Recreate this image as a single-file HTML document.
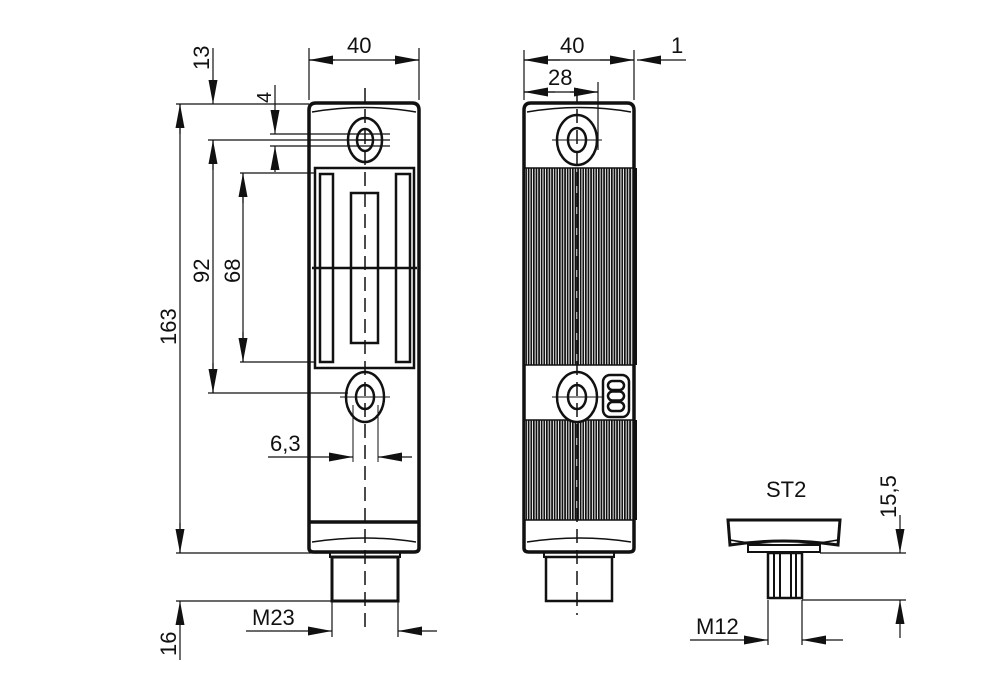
<!DOCTYPE html>
<html><head><meta charset="utf-8"><style>
html,body{margin:0;padding:0;background:#fff;width:1000px;height:695px;overflow:hidden}
svg{display:block}
text{font-family:"Liberation Sans",sans-serif;font-size:22px;fill:#111}
</style></head><body>
<svg width="1000" height="695" viewBox="0 0 1000 695" xmlns="http://www.w3.org/2000/svg">
<defs>
<pattern id="rib" width="2.6" height="10" patternUnits="userSpaceOnUse">
<rect width="2.6" height="10" fill="#fff"/><rect width="1.7" height="10" fill="#111"/>
</pattern>
<marker id="a" viewBox="0 0 24 10" refX="24" refY="5" markerWidth="24" markerHeight="10" markerUnits="userSpaceOnUse" orient="auto"><path d="M0,0.5 L24,5 L0,9.5 z" fill="#111"/></marker>
</defs>
<g stroke="#111" fill="none">
<!-- ===== LEFT VIEW ===== -->
<path d="M309,548 L309,110 Q309,103 316,103 L412,103 Q419,103 419,110 L419,548 Q419,552 414,552 L314,552 Q309,552 309,548 z" stroke-width="3.5"/>
<path d="M312,112 Q365,103 416,112" stroke-width="1.5"/>
<line x1="309" y1="522" x2="419" y2="522" stroke-width="3.5"/>
<path d="M312,542 Q365,534 416,542" stroke-width="1.5"/>
<rect x="315" y="168" width="99" height="200" stroke-width="2.5"/>
<rect x="320" y="174" width="13" height="188" stroke-width="2.5"/>
<rect x="396" y="174" width="14" height="188" stroke-width="2.5"/>
<rect x="351" y="193" width="27" height="150" stroke-width="2.5"/>
<line x1="312" y1="268" x2="417" y2="268" stroke-width="2.5"/>
<ellipse cx="365" cy="140" rx="17" ry="22" stroke-width="2.5"/>
<ellipse cx="365" cy="140" rx="8" ry="11" stroke-width="2.5"/>
<line x1="357" y1="140" x2="373" y2="140" stroke-width="1.5"/>
<ellipse cx="365" cy="397" rx="19" ry="25" stroke-width="2.5"/>
<ellipse cx="365" cy="397" rx="9" ry="12" stroke-width="2.5"/>
<line x1="340" y1="397" x2="390" y2="397" stroke-width="1"/>
<rect x="330" y="552" width="70" height="5" stroke-width="2"/>
<rect x="332" y="557" width="66" height="44" stroke-width="3"/>
<line x1="365" y1="88" x2="365" y2="630" stroke-width="1.5" stroke-dasharray="14,7"/>
<line x1="353" y1="405" x2="353" y2="462" stroke-width="1"/>
<line x1="378" y1="405" x2="378" y2="462" stroke-width="1"/>
<!-- dims left -->
<g stroke-width="1.2">
<line x1="309" y1="100" x2="309" y2="48"/><line x1="419" y1="100" x2="419" y2="48"/>
<line x1="335" y1="60" x2="309" y2="60" marker-end="url(#a)"/><line x1="393" y1="60" x2="419" y2="60" marker-end="url(#a)"/>
<line x1="309" y1="60" x2="419" y2="60"/>
<line x1="176" y1="104" x2="309" y2="104"/>
<line x1="208" y1="140" x2="390" y2="140"/>
<line x1="270" y1="134" x2="390" y2="134"/>
<line x1="270" y1="146" x2="390" y2="146"/>
<line x1="240" y1="173" x2="316" y2="173"/>
<line x1="240" y1="362" x2="316" y2="362"/>
<line x1="208" y1="393" x2="348" y2="393"/>
<line x1="176" y1="553" x2="330" y2="553"/>
<line x1="176" y1="601" x2="332" y2="601"/>
<line x1="213" y1="48" x2="213" y2="104" marker-end="url(#a)"/>
<line x1="213" y1="140" x2="213" y2="393"/>
<line x1="213" y1="170" x2="213" y2="140" marker-end="url(#a)"/><line x1="213" y1="363" x2="213" y2="393" marker-end="url(#a)"/>
<line x1="275" y1="85" x2="275" y2="134" marker-end="url(#a)"/>
<line x1="275" y1="172" x2="275" y2="146" marker-end="url(#a)"/>
<line x1="243" y1="173" x2="243" y2="362"/>
<line x1="243" y1="203" x2="243" y2="173" marker-end="url(#a)"/><line x1="243" y1="332" x2="243" y2="362" marker-end="url(#a)"/>
<line x1="180" y1="104" x2="180" y2="553"/>
<line x1="180" y1="134" x2="180" y2="104" marker-end="url(#a)"/><line x1="180" y1="523" x2="180" y2="553" marker-end="url(#a)"/>
<line x1="180" y1="660" x2="180" y2="601" marker-end="url(#a)"/>
<line x1="268" y1="457" x2="353" y2="457" marker-end="url(#a)"/>
<line x1="412" y1="457" x2="378" y2="457" marker-end="url(#a)"/>
<line x1="332" y1="601" x2="332" y2="637"/><line x1="398" y1="601" x2="398" y2="637"/>
<line x1="246" y1="631" x2="332" y2="631" marker-end="url(#a)"/>
<line x1="437" y1="631" x2="398" y2="631" marker-end="url(#a)"/>
</g>
<!-- ===== RIGHT VIEW ===== -->
<rect x="526" y="168" width="106" height="197" fill="url(#rib)" stroke="none"/>
<rect x="526" y="420" width="106" height="100" fill="url(#rib)" stroke="none"/>
<path d="M524,548 L524,110 Q524,103 531,103 L627,103 Q634,103 634,110 L634,548 Q634,552 629,552 L529,552 Q524,552 524,548 z" stroke-width="3.5"/>
<line x1="636" y1="168" x2="636" y2="365" stroke-width="2"/>
<line x1="636" y1="420" x2="636" y2="520" stroke-width="2"/>
<path d="M527,112 Q580,103 631,112" stroke-width="1.5"/>
<line x1="524" y1="168" x2="634" y2="168" stroke-width="1.5"/>
<line x1="524" y1="365" x2="634" y2="365" stroke-width="1.5"/>
<line x1="524" y1="420" x2="634" y2="420" stroke-width="1.5"/>
<line x1="524" y1="520" x2="634" y2="520" stroke-width="1.5"/>
<path d="M527,542 Q580,534 631,542" stroke-width="1.5"/>
<ellipse cx="577" cy="140" rx="20" ry="25" stroke-width="2.5" fill="#fff"/>
<ellipse cx="577" cy="140" rx="9" ry="12" stroke-width="2.5"/>
<line x1="552" y1="140" x2="602" y2="140" stroke-width="1"/>
<ellipse cx="577" cy="397" rx="20" ry="25" stroke-width="2.5" fill="#fff"/>
<ellipse cx="577" cy="397" rx="9" ry="12" stroke-width="2.5"/>
<line x1="552" y1="397" x2="602" y2="397" stroke-width="1"/>
<rect x="603" y="375" width="26" height="42" rx="7" stroke-width="2.5"/>
<rect x="608" y="381" width="16" height="9" rx="4.5" stroke-width="2.5"/>
<rect x="608" y="391.5" width="16" height="9" rx="4.5" stroke-width="2.5"/>
<rect x="608" y="402" width="16" height="9" rx="4.5" stroke-width="2.5"/>
<rect x="544" y="552" width="70" height="5" stroke-width="2"/>
<rect x="546" y="557" width="66" height="44" stroke-width="2.5"/>
<line x1="577" y1="88" x2="577" y2="615" stroke-width="1.5" stroke-dasharray="14,7"/>
<g stroke-width="1.2">
<line x1="524" y1="100" x2="524" y2="50"/><line x1="634" y1="100" x2="634" y2="50"/><line x1="598" y1="150" x2="598" y2="82"/>
<line x1="524" y1="60" x2="634" y2="60"/>
<line x1="560" y1="60" x2="524" y2="60" marker-end="url(#a)"/><line x1="600" y1="60" x2="634" y2="60" marker-end="url(#a)"/>
<line x1="686" y1="60" x2="637" y2="60" marker-end="url(#a)"/>
<line x1="524" y1="92" x2="598" y2="92"/>
<line x1="555" y1="92" x2="524" y2="92" marker-end="url(#a)"/><line x1="570" y1="92" x2="598" y2="92" marker-end="url(#a)"/>
</g>
<!-- ===== ST2 ===== -->
<path d="M728,520 L840,520 L838,545 Q784,537 730,545 z" stroke-width="3" fill="#fff"/>
<path d="M730,540 Q784,550 838,540" stroke-width="1.5"/>
<rect x="748" y="545" width="72" height="7" stroke-width="2"/>
<rect x="768" y="553" width="34" height="45" stroke-width="2.5"/>
<line x1="774" y1="553" x2="774" y2="598" stroke-width="2"/>
<line x1="780" y1="553" x2="780" y2="598" stroke-width="2"/>
<line x1="791" y1="553" x2="791" y2="598" stroke-width="2"/>
<line x1="796" y1="553" x2="796" y2="598" stroke-width="2"/>
<g stroke-width="1.2">
<line x1="820" y1="553" x2="906" y2="553"/>
<line x1="802" y1="600" x2="906" y2="600"/>
<line x1="900" y1="515" x2="900" y2="553" marker-end="url(#a)"/>
<line x1="900" y1="638" x2="900" y2="600" marker-end="url(#a)"/>
<line x1="768" y1="600" x2="768" y2="645"/><line x1="802" y1="600" x2="802" y2="645"/>
<line x1="690" y1="640" x2="768" y2="640" marker-end="url(#a)"/>
<line x1="843" y1="640" x2="802" y2="640" marker-end="url(#a)"/>
</g>
</g>
<!-- text -->
<text x="347" y="53">40</text>
<text x="560" y="53">40</text>
<text x="548" y="85">28</text>
<text x="671" y="53">1</text>
<text x="270" y="451">6,3</text>
<text x="252" y="625">M23</text>
<text x="696" y="634">M12</text>
<text x="766" y="497">ST2</text>
<text transform="translate(209,70) rotate(-90)">13</text>
<text transform="translate(271,103) rotate(-90)" style="font-size:20px">4</text>
<text transform="translate(209,283) rotate(-90)">92</text>
<text transform="translate(240,283) rotate(-90)">68</text>
<text transform="translate(176,345) rotate(-90)">163</text>
<text transform="translate(176,656) rotate(-90)">16</text>
<text transform="translate(896,518) rotate(-90)">15,5</text>
</svg>
</body></html>
